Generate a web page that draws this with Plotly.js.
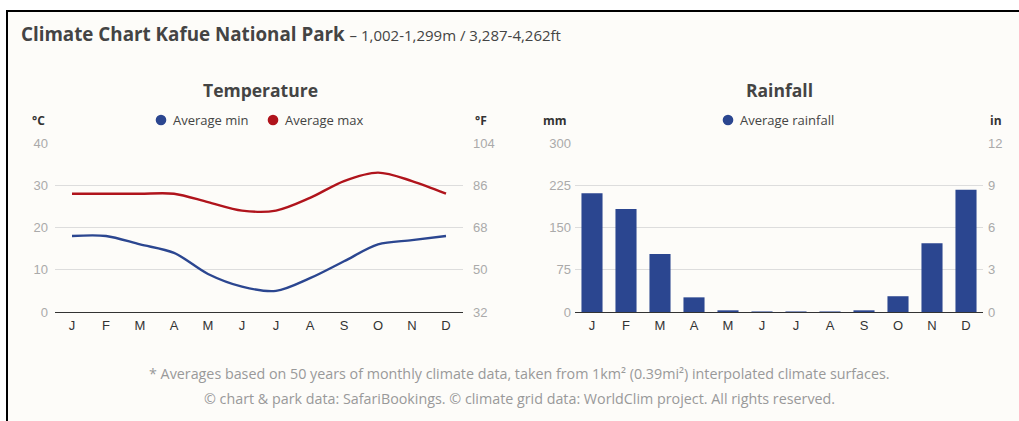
<!DOCTYPE html>
<html>
<head>
<meta charset="utf-8">
<script src="https://cdn.plot.ly/plotly-3.0.1.min.js"></script>
<style>
html,body{margin:0;padding:0;background:#ffffff;width:1019px;height:421px;overflow:hidden;}
#card{position:absolute;left:6px;top:10px;width:1013px;height:411px;border-left:2px solid #000;border-top:2px solid #000;background:#fdfcf9;}
#chart{position:absolute;left:0;top:0;width:1011px;height:409px;}
</style>
</head>
<body>
<div id="card"><div id="chart"></div></div>
<script>
// ---- data ----
const monthLabels = ["J","F","M","A","M","J","J","A","S","O","N","D"];
const tempMin = [18,18,16,14,9,6,5,8,12,16,17,18];
const tempMax = [28,28,28,28,26,24,24,27,31,33,31,28];
const rainfall = [211,183,103,26,3,1,1,1,3,28,122,217];
const cTicks = [0,10,20,30,40];
const fTicks = [32,50,68,86,104];
const mmTicks = [0,75,150,225,300];
const inTicks = [0,3,6,9,12];
const seriesNames = ["Average min","Average max","Average rainfall"];

const W = 1011, H = 409;
const fx = x => x / W;
const fy = y => 1 - y / H;

const blue = "#2b4690";
const red = "#b0141c";
const tickFont = {family:"Liberation Sans, Arial, sans-serif", size:13, color:"#aaaaaa"};
const monthFont = {family:"Liberation Sans, Arial, sans-serif", size:13, color:"#333333"};
const idx = monthLabels.map((m,i)=>i);

const traces = [
  {x: idx, y: tempMin, type:"scatter", mode:"lines", line:{color:blue, width:2.4, shape:"spline", smoothing:0.9}, xaxis:"x", yaxis:"y", showlegend:false, hoverinfo:"skip"},
  {x: idx, y: tempMax, type:"scatter", mode:"lines", line:{color:red, width:2.4, shape:"spline", smoothing:0.9}, xaxis:"x", yaxis:"y", showlegend:false, hoverinfo:"skip"},
  {x: [0], y: [32], type:"scatter", mode:"markers", marker:{opacity:0}, xaxis:"x", yaxis:"y2", showlegend:false, hoverinfo:"skip"},
  {x: idx, y: rainfall, type:"bar", marker:{color:blue}, xaxis:"x2", yaxis:"y3", showlegend:false, hoverinfo:"skip"},
  {x: [0], y: [0], type:"scatter", mode:"markers", marker:{opacity:0}, xaxis:"x2", yaxis:"y4", showlegend:false, hoverinfo:"skip"}
];

const yDom = [fy(300), fy(131)];
const xBase = {tickmode:"array", tickvals: idx, ticktext: monthLabels, tickfont: monthFont, showgrid:false, zeroline:false, showline:true, linecolor:"#333333", linewidth:1, ticks:"", ticklabelstandoff:1, range:[-0.5,11.5], fixedrange:true};

// legend entries drawn as circle + text (pixel positions in the figure)
const legendItems = [
  {cx:153, text:seriesNames[0], color:blue},
  {cx:265, text:seriesNames[1], color:red},
  {cx:720, text:seriesNames[2], color:blue}
];
const legY = 108, r = 5.3;
const shapes = legendItems.map(it => ({type:"circle", xref:"paper", yref:"paper",
  x0:fx(it.cx-r), x1:fx(it.cx+r), y0:fy(legY+r), y1:fy(legY-r), fillcolor:it.color, line:{width:0}}));
const legendAnn = legendItems.map(it => ({xref:"paper", yref:"paper", x:fx(it.cx+10), y:fy(legY), xanchor:"left", yanchor:"middle", showarrow:false,
  text:it.text, font:{family:"Open Sans, sans-serif", size:13, color:"#444444"}}));

const layout = {
  width: W, height: H,
  margin:{l:0,r:0,t:0,b:0},
  paper_bgcolor:"rgba(0,0,0,0)",
  plot_bgcolor:"rgba(0,0,0,0)",
  font:{family:"Open Sans, Noto Sans, sans-serif", color:"#444444"},
  showlegend:false,
  bargap:0.38,
  xaxis: Object.assign({}, xBase, {domain:[fx(47), fx(455)], anchor:"y"}),
  xaxis2: Object.assign({}, xBase, {domain:[fx(567), fx(975)], anchor:"y3"}),
  yaxis: {domain:yDom, range:[0,40], tickmode:"array", tickvals:cTicks, tickfont:tickFont, gridcolor:"#dddddd", gridwidth:1, zeroline:false, showline:false, ticks:"", ticklabelstandoff:6, anchor:"x"},
  yaxis2: {domain:yDom, range:[32,104], overlaying:"y", side:"right", tickmode:"array", tickvals:fTicks, tickfont:tickFont, showgrid:false, zeroline:false, showline:false, ticks:"", ticklabelstandoff:9, anchor:"x"},
  yaxis3: {domain:yDom, range:[0,300], tickmode:"array", tickvals:mmTicks, tickfont:tickFont, gridcolor:"#dddddd", gridwidth:1, zeroline:false, showline:false, ticks:"", ticklabelstandoff:3, anchor:"x2"},
  yaxis4: {domain:yDom, range:[0,12], overlaying:"y3", side:"right", tickmode:"array", tickvals:inTicks, tickfont:tickFont, showgrid:false, zeroline:false, showline:false, ticks:"", ticklabelstandoff:4, anchor:"x2"},
  shapes: shapes,
  annotations: legendAnn.concat([
    {xref:"paper", yref:"paper", x:fx(11), y:fy(22), xanchor:"left", yanchor:"middle", showarrow:false,
     text:"<b>Climate Chart Kafue National Park</b> <span style='font-size:15px'>– 1,002-1,299m / 3,287-4,262ft</span>",
     font:{family:"Open Sans, sans-serif", size:18.8, color:"#444444"}},
    {xref:"paper", yref:"paper", x:fx(252), y:fy(78), xanchor:"center", yanchor:"middle", showarrow:false,
     text:"<b>Temperature</b>", font:{family:"Open Sans, sans-serif", size:17.5, color:"#444444"}},
    {xref:"paper", yref:"paper", x:fx(771), y:fy(78), xanchor:"center", yanchor:"middle", showarrow:false,
     text:"<b>Rainfall</b>", font:{family:"Open Sans, sans-serif", size:17.5, color:"#444444"}},
    {xref:"paper", yref:"paper", x:fx(30), y:fy(109), xanchor:"center", yanchor:"middle", showarrow:false,
     text:"<b>°C</b>", font:{family:"Open Sans, sans-serif", size:12, color:"#333333"}},
    {xref:"paper", yref:"paper", x:fx(473), y:fy(109), xanchor:"center", yanchor:"middle", showarrow:false,
     text:"<b>°F</b>", font:{family:"Open Sans, sans-serif", size:12, color:"#333333"}},
    {xref:"paper", yref:"paper", x:fx(547), y:fy(109), xanchor:"center", yanchor:"middle", showarrow:false,
     text:"<b>mm</b>", font:{family:"Open Sans, sans-serif", size:12, color:"#333333"}},
    {xref:"paper", yref:"paper", x:fx(988), y:fy(109), xanchor:"center", yanchor:"middle", showarrow:false,
     text:"<b>in</b>", font:{family:"Open Sans, sans-serif", size:12, color:"#333333"}},
    {xref:"paper", yref:"paper", x:fx(511), y:fy(361), xanchor:"center", yanchor:"middle", showarrow:false,
     text:"* Averages based on 50 years of monthly climate data, taken from 1km² (0.39mi²) interpolated climate surfaces.",
     font:{family:"Open Sans, sans-serif", size:14.3, color:"#999999"}},
    {xref:"paper", yref:"paper", x:fx(511), y:fy(386), xanchor:"center", yanchor:"middle", showarrow:false,
     text:"© chart &amp; park data: SafariBookings. © climate grid data: WorldClim project. All rights reserved.",
     font:{family:"Open Sans, sans-serif", size:14.3, color:"#999999"}}
  ])
};

Plotly.newPlot("chart", traces, layout, {staticPlot:true, displayModeBar:false});
</script>
</body>
</html>
